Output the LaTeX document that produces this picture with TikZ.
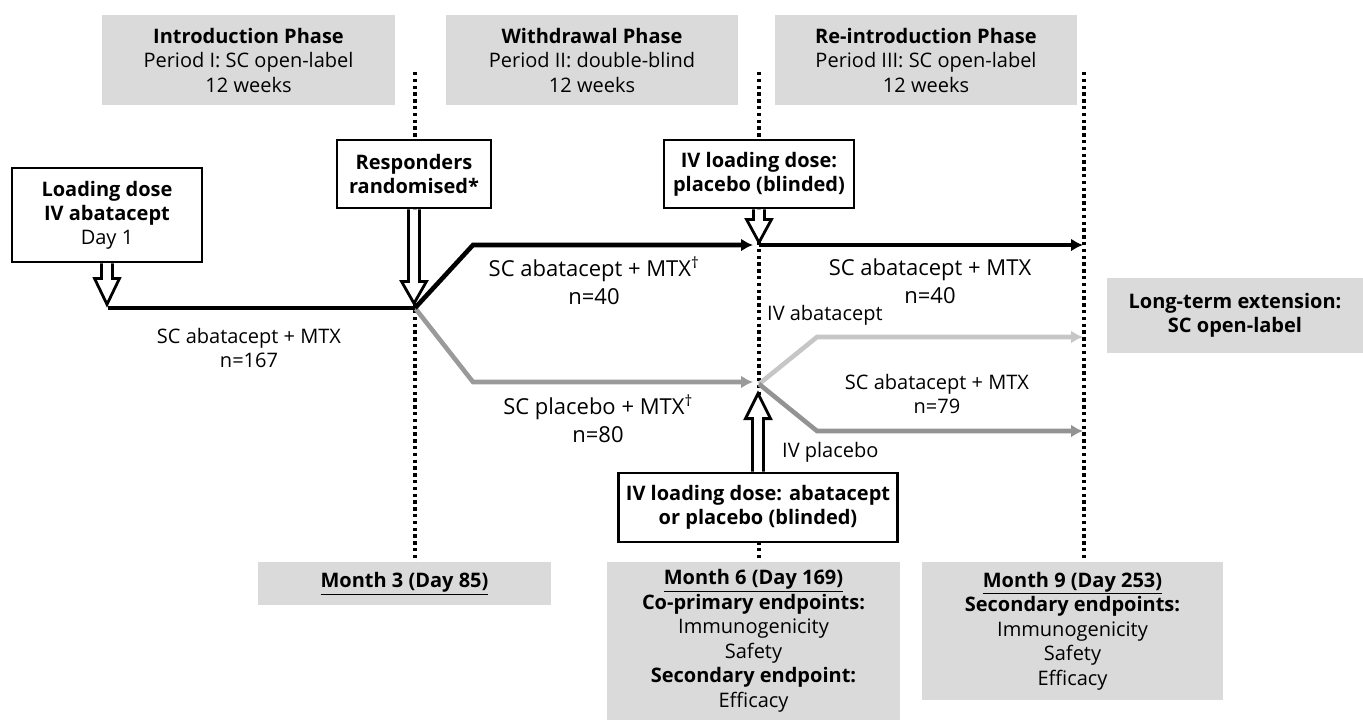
\documentclass[tikz,border=0pt]{standalone}
\usepackage{fontspec}
\setmainfont{Open Sans}
\usetikzlibrary{arrows.meta,calc}
\definecolor{boxgrey}{HTML}{DADADA}
\definecolor{lineA}{HTML}{9A9A9A}
\definecolor{lineB}{HTML}{C6C6C6}
\definecolor{lineC}{HTML}{939393}
\newcommand\blockarrow[3]{%
  \draw[hollowarrow] ($(#1)+(-5.5,0)$) -- ($(#1)+(-5.5,#2)$) -- ($(#1)+(-12.5,#2)$) -- ($(#1)+(0,#3)$) -- ($(#1)+(12.5,#2)$) -- ($(#1)+(5.5,#2)$) -- ($(#1)+(5.5,0)$);}
\begin{document}
\begin{tikzpicture}[x=1pt,y=-1pt,
  greybox/.style={fill=boxgrey, draw=none, inner sep=0pt, align=center, font=\fontsize{20}{24.5}\selectfont},
  whitebox/.style={fill=white, draw=black, line width=2.8pt, inner sep=0pt, align=center, font=\fontsize{20}{24}\selectfont\bfseries},
  dotline/.style={line width=3.6pt, dash pattern=on 3.4pt off 3.4pt},
  flow/.style={line width=4.6pt, -{Latex[length=12pt,width=13pt]}},
  hollowarrow/.style={draw=black, fill=white, line width=2.8pt, line join=miter},
  labbig/.style={align=center, inner sep=0pt, font=\fontsize{22}{28}\selectfont},
  labsmall/.style={align=center, inner sep=0pt, font=\fontsize{20}{23.5}\selectfont},
]
\useasboundingbox (0,0) rectangle (1363,720);

% dotted time lines
\coordinate (d1t) at (415,72);  \coordinate (d1b) at (415,562);
\coordinate (d2t) at (759,72);  \coordinate (d2b) at (759,562);
\coordinate (d3t) at (1084,72); \coordinate (d3b) at (1084,562);
\draw[dotline] (d1t) -- (d1b);
\draw[dotline] (d2t) -- (d2b);
\draw[dotline] (d3t) -- (d3b);

% grey phase boxes
\node[greybox, minimum width=293, minimum height=90] (intro) at (248.5,60)
  {\textbf{Introduction Phase}\\Period I: SC open-label\\12 weeks};
\node[greybox, minimum width=292, minimum height=90] (withd) at (592,60)
  {\textbf{Withdrawal Phase}\\Period II: double-blind\\12 weeks};
\node[greybox, minimum width=302, minimum height=90] (reint) at (926,60)
  {\textbf{Re-introduction Phase}\\Period III: SC open-label\\12 weeks};
\node[greybox, minimum width=256, minimum height=75, font=\fontsize{20}{23.5}\selectfont\bfseries] (lte) at (1235,315.5)
  {Long-term extension:\\SC open-label};
\node[greybox, minimum width=293, minimum height=43] (m3) at (404.5,583.5)
  {\textbf{\underline{Month 3 (Day 85)}}};
\node[greybox, minimum width=293, minimum height=158] (m6) at (753.5,641)
  {\textbf{\underline{Month 6 (Day 169)}}\\\textbf{Co-primary endpoints:}\\Immunogenicity\\Safety\\\textbf{Secondary endpoint:}\\Efficacy};
\node[greybox, minimum width=301, minimum height=138] (m9) at (1072.5,631)
  {\textbf{\underline{Month 9 (Day 253)}}\\\textbf{Secondary endpoints:}\\Immunogenicity\\Safety\\Efficacy};

% flow lines
\coordinate (start) at (108,308);
\coordinate (split) at (415,308);
\coordinate (ucorner) at (473,245);
\coordinate (uend) at (753,245);
\coordinate (lcorner) at (473,382);
\coordinate (lend) at (753,382);
\coordinate (jtop) at (759,245);
\coordinate (rtopend) at (1083,245);
\coordinate (jlow) at (759,384);
\coordinate (rlc) at (817,337);
\coordinate (rlend) at (1083,337);
\coordinate (rmc) at (817,431);
\coordinate (rmend) at (1083,431);

\draw[flow, lineA] (split) -- (lcorner) -- (lend);
\draw[line width=4.6pt] (start) -- (split);
\draw[flow] (split) -- (ucorner) -- (uend);
\draw[flow] (jtop) -- (rtopend);
\draw[flow, lineB] (jlow) -- (rlc) -- (rlend);
\draw[flow, lineC] (jlow) -- (rmc) -- (rmend);

% branch labels
\node[labsmall] (l1) at (249,348) {SC abatacept + MTX\\n=167};
\node[labbig] (l2) at (594,281) {SC abatacept + MTX\textsuperscript{†}\\n=40};
\node[labbig] (l3) at (598,419) {SC placebo + MTX\textsuperscript{†}\\n=80};
\node[labbig] (l4) at (930,281) {SC abatacept + MTX\\n=40};
\node[labsmall] (l5) at (937,394) {SC abatacept + MTX\\n=79};
\node[labsmall, anchor=west] (ivab) at (767,315) {IV abatacept};
\node[labsmall, anchor=west] (ivpl) at (782,452) {IV placebo};

% white boxes and hollow arrows
\node[whitebox, minimum width=190, minimum height=94] (ld) at (107,215)
  {Loading dose\\IV abatacept\\\mdseries Day 1};
\node[whitebox, minimum width=154, minimum height=68] (resp) at (414,174)
  {Responders\\randomised*};
\node[whitebox, minimum width=190, minimum height=68] (ivp) at (759,174)
  {IV loading dose:\\placebo (blinded)};
\node[whitebox, minimum width=279, minimum height=69] (iva) at (758,507.5)
  {IV loading dose: abatacept\\or placebo (blinded)};

\blockarrow{ld.south}{15}{41}
\blockarrow{resp.south}{72}{94}
\blockarrow{ivp.south}{10}{33}
\blockarrow{iva.north}{-53}{-78}
\end{tikzpicture}
\end{document}
